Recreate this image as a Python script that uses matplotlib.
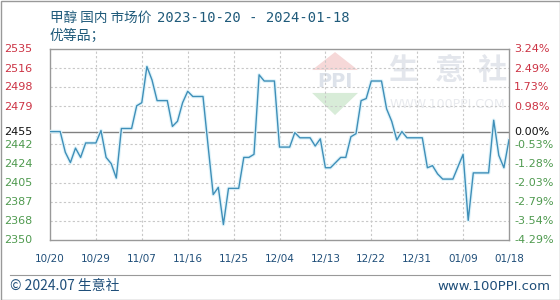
import matplotlib.pyplot as plt
import matplotlib.transforms as mtransforms
import numpy as np
import pandas as pd

plt.rcParams['font.family'] = ['DejaVu Sans', 'Noto Sans CJK SC']

# price readings (only points where the line changes direction)
dates = ['2023-10-20', '2023-10-22', '2023-10-23', '2023-10-24', '2023-10-25', '2023-10-26',
         '2023-10-27', '2023-10-29', '2023-10-30', '2023-10-31', '2023-11-01', '2023-11-02',
         '2023-11-03', '2023-11-05', '2023-11-06', '2023-11-07', '2023-11-08', '2023-11-09',
         '2023-11-10', '2023-11-12', '2023-11-13', '2023-11-14', '2023-11-15', '2023-11-16',
         '2023-11-17', '2023-11-19', '2023-11-20', '2023-11-21', '2023-11-22', '2023-11-23',
         '2023-11-24', '2023-11-26', '2023-11-27', '2023-11-28', '2023-11-29', '2023-11-30',
         '2023-12-01', '2023-12-03', '2023-12-04', '2023-12-06', '2023-12-07', '2023-12-08',
         '2023-12-10', '2023-12-11', '2023-12-12', '2023-12-13', '2023-12-14', '2023-12-16',
         '2023-12-17', '2023-12-18', '2023-12-19', '2023-12-20', '2023-12-21', '2023-12-22',
         '2023-12-24', '2023-12-25', '2023-12-26', '2023-12-27', '2023-12-28', '2023-12-29',
         '2024-01-01', '2024-01-02', '2024-01-03', '2024-01-04', '2024-01-05', '2024-01-07',
         '2024-01-09', '2024-01-10', '2024-01-11', '2024-01-14', '2024-01-15', '2024-01-16',
         '2024-01-17', '2024-01-18']
prices = [2455, 2455, 2435, 2425, 2439, 2430,
          2444, 2444, 2456, 2430, 2424, 2410,
          2458, 2458, 2480, 2483, 2518, 2505,
          2485, 2485, 2460, 2465, 2483, 2494,
          2489, 2489, 2441, 2394, 2401, 2365,
          2400, 2400, 2430, 2430, 2433, 2510,
          2504, 2504, 2440, 2440, 2454, 2449,
          2449, 2441, 2448, 2420, 2420, 2430,
          2430, 2450, 2453, 2485, 2487, 2504,
          2504, 2477, 2465, 2447, 2455, 2449,
          2449, 2420, 2422, 2414, 2409, 2409,
          2433, 2369, 2415, 2415, 2466, 2432,
          2420, 2447]

left_ticks = [2535, 2516, 2498, 2479, 2455, 2442, 2424, 2405, 2387, 2368, 2350]
right_ticks = ['3.24%', '2.49%', '1.73%', '0.98%', '0.00%', '-0.53%', '-1.28%',
               '-2.03%', '-2.79%', '-3.54%', '-4.29%']
x_labels = ['10/20', '10/29', '11/07', '11/16', '11/25', '12/04', '12/13',
            '12/22', '12/31', '01/09', '01/18']

base = 2455
ymin, ymax = 2350, 2535
start = pd.Timestamp('2023-10-20')
days = [(pd.Timestamp(d) - start).days for d in dates]

fig = plt.figure(figsize=(5.6, 3.0), dpi=100)
ax = fig.add_axes([50 / 560, 1 - 240 / 300, 459 / 560, 191 / 300])

# watermark: logo + site name
cjk = ['Noto Sans CJK SC', 'DejaVu Sans']
ax.fill([0.571, 0.671, 0.621], [0.890, 0.890, 0.984], color='#f6d8d8', lw=0,
        transform=ax.transAxes, zorder=0)
ax.fill([0.571, 0.671, 0.621], [0.770, 0.770, 0.654], color='#d8ecd8', lw=0,
        transform=ax.transAxes, zorder=0)
ax.text(0.621, 0.828, 'PPI', transform=ax.transAxes, fontsize=14, color='#dde2ea',
        ha='center', va='center', fontweight='bold', zorder=0)
for cx, ch in zip([0.769, 0.871, 0.963], '生意社'):
    ax.text(cx, 0.890, ch, transform=ax.transAxes, fontsize=21, color='#e3e6ec',
            ha='center', va='center', family=cjk, fontweight='bold', zorder=0)
ax.text(0.865, 0.707, 'WWW.100PPI.COM', transform=ax.transAxes, fontsize=9,
        color='#e8eaee', ha='center', va='center', zorder=0)

# grid
grid_levels = np.linspace(ymin, ymax, 11)
for g in grid_levels[1:-1]:
    if abs(g - 2461) < 1:
        continue
    ax.axhline(g, color='#c8c8c8', lw=0.8, ls=(0, (2, 2)), zorder=1)
for i in range(1, 10):
    ax.axvline(i * 9, color='#c8c8c8', lw=0.8, ls=(0, (2, 2)), zorder=1)
ax.axhline(base, color='#808080', lw=1.0, zorder=2)

ax.plot(days, prices, color='#dff3fa', lw=2.6, zorder=3)
ax.plot(days, prices, color='#3f8fb8', lw=1.0, zorder=4)

ax.set_xlim(0, 90)
ax.set_ylim(ymin, ymax)
ax.set_xticks(range(0, 91, 9))
ax.set_xticklabels(x_labels, fontsize=7.5, color='#1f4e79')
ax.tick_params(axis='x', length=0, pad=10)
ax.set_yticks([])
for s in ax.spines.values():
    s.set_color('#999999')
    s.set_linewidth(1.0)

tl = mtransforms.blended_transform_factory(fig.transFigure, ax.transData)
for v, p in zip(left_ticks, right_ticks):
    if v > base:
        c = '#cc3344'
    elif v == base:
        c = '#111111'
    else:
        c = '#4f9a4f'
    ax.text(4 / 560, v, str(v), transform=tl, fontsize=8, color=c, ha='left', va='center')
    ax.text(514 / 560, v, p, transform=tl, fontsize=8, color=c, ha='left', va='center')

fig.text(50 / 560, 1 - 18 / 300, '甲醇 国内 市场价', fontsize=9.8,
         color='#1f5a7a', ha='left', va='center', family=cjk)
fig.text(157 / 560, 1 - 18 / 300, '2023-10-20 - 2024-01-18', fontsize=10,
         color='#1f5a7a', ha='left', va='center', family='DejaVu Sans Mono')
fig.text(50 / 560, 1 - 36 / 300, '优等品；', fontsize=10, color='#1f5a7a', ha='left',
         va='center', family=cjk)

# footer
fig.add_artist(plt.Line2D([10 / 560, 550 / 560], [1 - 275 / 300, 1 - 275 / 300],
                          color='#999999', lw=0.8))
fig.text(10 / 560, 1 - 286 / 300, '© 2024.07 生意社', fontsize=10, color='#1f4e79',
         ha='left', va='center', family=cjk)
fig.text(550 / 560, 1 - 286 / 300, 'www.100PPI.com', fontsize=9.5, color='#1f4e79',
         ha='right', va='center')
fig.add_artist(plt.Rectangle((0.5 / 560, 0.5 / 300), 559 / 560, 299 / 300, fill=False,
                             edgecolor='#999999', lw=1.0, transform=fig.transFigure))

plt.savefig('out.png', dpi=100)
